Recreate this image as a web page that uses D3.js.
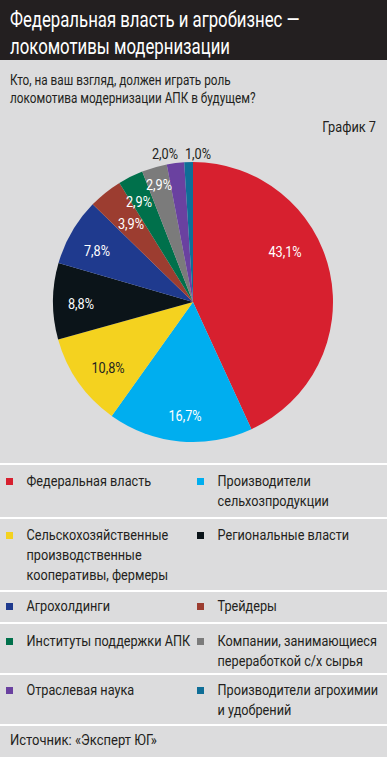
<!DOCTYPE html>
<html>
<head>
<meta charset="utf-8">
<script src="https://cdn.jsdelivr.net/npm/d3@7"></script>
<style>
  body { margin: 0; background: #dcdcdd; }
  svg { display: block; }
  text { font-family: "Roboto", "Noto Sans", sans-serif; }
</style>
</head>
<body>
<div id="chart"></div>
<script>
// chart data
var categories = ["Федеральная власть", "Производители сельхозпродукции", "Сельскохозяйственные производственные кооперативы, фермеры",
    "Региональные власти", "Агрохолдинги", "Трейдеры", "Институты поддержки АПК",
    "Компании, занимающиеся переработкой с/х сырья", "Отраслевая наука", "Производители агрохимии и удобрений"];
var values = [43.1, 16.7, 10.8, 8.8, 7.8, 3.9, 2.9, 2.9, 2.0, 1.0];
var colors = ["#d7202f", "#00aeef", "#f4d21f", "#0b1419", "#1f3a8e", "#9c3d30", "#00704b", "#7b7b7b", "#6a41a0", "#0f6e97"];
// legend lines, as broken in the picture
var legend_lines = [
    ["Федеральная власть"], ["Производители", "сельхозпродукции"],
    ["Сельскохозяйственные", "производственные", "кооперативы, фермеры"], ["Региональные власти"],
    ["Агрохолдинги"], ["Трейдеры"],
    ["Институты поддержки АПК"], ["Компании, занимающиеся", "переработкой с/х сырья"],
    ["Отраслевая наука"], ["Производители агрохимии", "и удобрений"]
];

var width = 387, height = 757;

var svg = d3.select("#chart").append("svg")
    .attr("width", width)
    .attr("height", height);

svg.append("rect").attr("width", width).attr("height", height).attr("fill", "#dcdcdd");

// writes (possibly multi-line) text, squeezed by s since the original uses a condensed face
function addText(parent, x, y, size, s, lines, fill, anchor, lh) {
    var t = parent.append("g")
        .attr("transform", "translate(" + x + "," + y + ") scale(" + s + ",1)")
        .append("text")
        .attr("font-size", size)
        .attr("fill", fill)
        .attr("text-anchor", anchor || "start");
    t.selectAll("tspan")
        .data(lines)
        .enter()
        .append("tspan")
        .attr("x", 0)
        .attr("y", function(d, j) { return j * (lh || 0); })
        .text(function(d) { return d; });
    return t;
}

// header
svg.append("rect").attr("width", width).attr("height", 60).attr("fill", "#231f20");
addText(svg, 10, 27, 21.5, 0.78, ["Федеральная власть и агробизнес —"], "#fff");
addText(svg, 10, 54, 21.5, 0.78, ["локомотивы модернизации"], "#fff");

addText(svg, 10, 85, 15.5, 0.76, ["Кто, на ваш взгляд, должен играть роль", "локомотива модернизации АПК в будущем?"], "#231f20", "start", 18);
addText(svg, 376, 132, 15, 0.85, ["График 7"], "#231f20", "end");

// pie
var cx = 193, cy = 302, r = 140;
var pie = d3.pie().sort(null).value(function(d) { return d; });
var arcs = pie(values);
var arc = d3.arc().innerRadius(0).outerRadius(r);

var g = svg.append("g").attr("transform", "translate(" + cx + "," + cy + ")");
g.selectAll("path")
    .data(arcs)
    .enter()
    .append("path")
    .attr("d", arc)
    .attr("fill", function(d, i) { return colors[i]; });

// label centres, offsets from the pie centre
var label_pos = [[92, -51], [-8, 113], [-85, 65], [-112, 1], [-96, -52], [-62, -79], [-54, -101], [-34, -118], [-28, -149], [5, -149]];
function fmt(v) { return v.toFixed(1).replace(".", ",") + "%"; }

arcs.forEach(function(d, i) {
    addText(g, label_pos[i][0], label_pos[i][1] + 5.5, 15.5, 0.82, [fmt(d.data)],
        (i == 2 || i >= 8) ? "#231f20" : "#fff", "middle");
});

// legend
var row_top = [464, 518, 591, 623, 674, 725];
var row_base = [486, 540, 611, 646, 695];
var col_x = [6, 197];

svg.selectAll("line.sep")
    .data(row_top)
    .enter()
    .append("line")
    .attr("x1", 0).attr("x2", width)
    .attr("y1", function(d) { return d; }).attr("y2", function(d) { return d; })
    .attr("stroke", "#fff")
    .attr("stroke-width", 2);

categories.forEach(function(c, i) {
    var item = svg.append("g")
        .attr("transform", "translate(" + col_x[i % 2] + "," + row_base[Math.floor(i / 2)] + ")");
    item.append("rect")
        .attr("x", 0).attr("y", -8)
        .attr("width", 7).attr("height", 7)
        .attr("fill", colors[i]);
    addText(item, 20.5, 0, 15.5, 0.82, legend_lines[i], "#231f20", "start", 20);
});

addText(svg, 10, 745, 15.5, 0.84, ["Источник: «Эксперт ЮГ»"], "#231f20");
</script>
</body>
</html>
